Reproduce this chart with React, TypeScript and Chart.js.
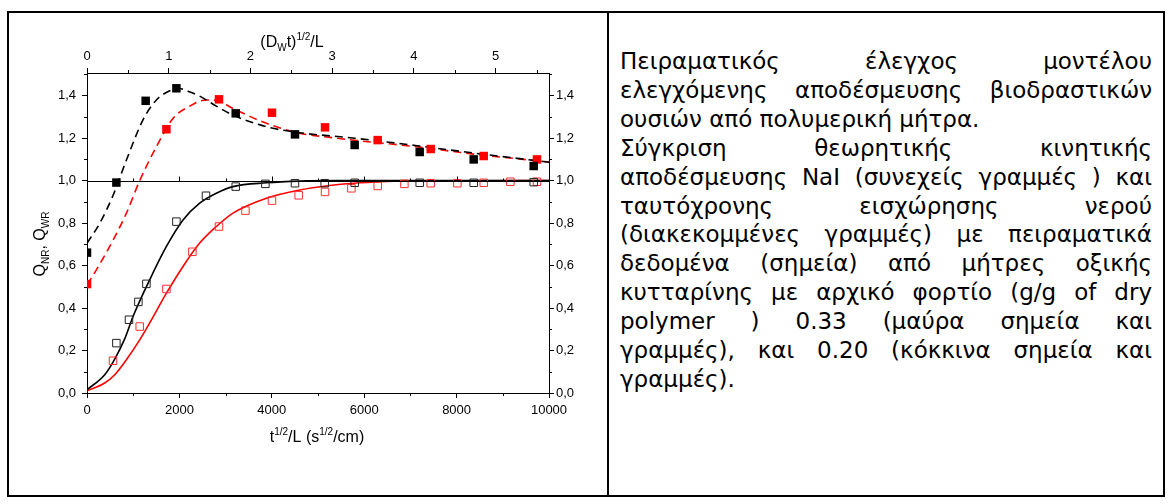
import React, { useEffect, useRef } from "react";
import { Chart, registerables } from "chart.js";

Chart.register(...registerables);

// ---------- axis definitions ----------
const X_MAX = 10000;
const X2_MAX = 5.652;
const Y_MAX = 1.507;
const X_TICKS = [0, 2000, 4000, 6000, 8000, 10000];
const X_MINOR = [1000, 3000, 5000, 7000, 9000];
const X2_TICKS = [0, 1, 2, 3, 4, 5];
const X2_MINOR = [0.5, 1.5, 2.5, 3.5, 4.5, 5.5];
const Y_TICKS = [0, 0.2, 0.4, 0.6, 0.8, 1.0, 1.2, 1.4];
const Y_MINOR = [0.1, 0.3, 0.5, 0.7, 0.9, 1.1, 1.3, 1.5];

// ---------- experimental points ----------
// water uptake (filled squares)
const PTS_WR_033_X = [0, 636, 1270, 1935, 3219, 4502, 5794, 7201, 8370, 9669];
const PTS_WR_033_Y = [0.661, 0.991, 1.376, 1.435, 1.317, 1.218, 1.168, 1.135, 1.1, 1.069];
const PTS_WR_020_X = [0, 1719, 2857, 4004, 5152, 6292, 7440, 8587, 9740];
const PTS_WR_020_Y = [0.513, 1.242, 1.383, 1.32, 1.251, 1.191, 1.149, 1.116, 1.1];
// NaI release (open squares)
const PTS_NR_033_X = [636, 909, 1112, 1286, 1935, 2576, 3219, 3861, 4502, 5145, 5794, 7201, 8370, 9669];
const PTS_NR_033_Y = [0.235, 0.345, 0.429, 0.514, 0.807, 0.929, 0.972, 0.985, 0.988, 0.988, 0.99, 0.99, 0.99, 0.993];
const PTS_NR_020_X = [563, 1141, 1719, 2281, 2857, 3429, 4004, 4582, 5152, 5723, 6292, 6870, 7440, 8017, 8587, 9164, 9740];
const PTS_NR_020_Y = [0.152, 0.313, 0.49, 0.665, 0.784, 0.859, 0.906, 0.931, 0.947, 0.964, 0.975, 0.985, 0.988, 0.988, 0.99, 0.995, 0.995];

// ---------- model curves ----------
const FIT_NR_033_X = [0, 383, 600, 816, 996, 1357, 1719, 2078, 2439, 2800, 3160, 3883, 4604, 5500, 10000];
const FIT_NR_033_Y = [0.015, 0.086, 0.16, 0.255, 0.36, 0.533, 0.69, 0.815, 0.894, 0.941, 0.972, 0.99, 0.998, 1.0, 1.0];
const FIT_NR_020_X = [0, 383, 600, 853, 1141, 1357, 1719, 2078, 2439, 2800, 3160, 3883, 4604, 5253, 5900, 6600, 10000];
const FIT_NR_020_Y = [0.01, 0.047, 0.086, 0.157, 0.25, 0.33, 0.47, 0.596, 0.706, 0.784, 0.847, 0.917, 0.956, 0.977, 0.99, 0.998, 1.0];
const FIT_WR_033_X = [0, 277, 563, 853, 1212, 1502, 1790, 1970, 2200, 2439, 2800, 3160, 3883, 4604, 5794, 7201, 8370, 10000];
const FIT_WR_033_Y = [0.705, 0.8, 0.93, 1.097, 1.286, 1.38, 1.423, 1.435, 1.42, 1.398, 1.351, 1.309, 1.254, 1.226, 1.2, 1.163, 1.13, 1.087];
const FIT_WR_020_X = [0, 203, 491, 853, 1141, 1502, 1861, 2223, 2584, 2800, 3160, 3883, 4604, 5253, 5794, 7201, 8370, 10000];
const FIT_WR_020_Y = [0.51, 0.58, 0.69, 0.847, 1.0, 1.16, 1.293, 1.351, 1.38, 1.378, 1.34, 1.27, 1.223, 1.204, 1.19, 1.158, 1.125, 1.088];

// ---------- caption ----------
const CAPTION_LINES: [string, boolean][] = [
  ["Πειραματικός έλεγχος μοντέλου", true],
  ["ελεγχόμενης αποδέσμευσης βιοδραστικών", true],
  ["ουσιών από πολυμερική μήτρα.", false],
  ["Σύγκριση θεωρητικής κινητικής", true],
  ["αποδέσμευσης NaI (συνεχείς γραμμές ) και", true],
  ["ταυτόχρονης εισχώρησης νερού", true],
  ["(διακεκομμένες γραμμές) με πειραματικά", true],
  ["δεδομένα (σημεία) από μήτρες οξικής", true],
  ["κυτταρίνης με αρχικό φορτίο (g/g of dry", true],
  ["polymer ) 0.33 (μαύρα σημεία και", true],
  ["γραμμές), και 0.20 (κόκκινα σημεία και", true],
  ["γραμμές).", false],
];

const FONT = "'Liberation Sans', Arial, sans-serif";

type Part = { t: string; s: number; dy: number };
const TITLE_TOP: Part[] = [
  { t: "(D", s: 16, dy: 0 },
  { t: "W", s: 10, dy: 4 },
  { t: "t)", s: 16, dy: 0 },
  { t: "1/2", s: 10, dy: -7 },
  { t: "/L", s: 16, dy: 0 },
];
const TITLE_BOTTOM: Part[] = [
  { t: "t", s: 16, dy: 0 },
  { t: "1/2", s: 10, dy: -7 },
  { t: "/L (s", s: 16, dy: 0 },
  { t: "1/2", s: 10, dy: -7 },
  { t: "/cm)", s: 16, dy: 0 },
];
const TITLE_LEFT: Part[] = [
  { t: "Q", s: 16, dy: 0 },
  { t: "NR", s: 10, dy: 4 },
  { t: ", Q", s: 16, dy: 0 },
  { t: "WR", s: 10, dy: 4 },
];

function drawParts(ctx: CanvasRenderingContext2D, parts: Part[], cx: number, by: number) {
  const widths = parts.map((p) => {
    ctx.font = `${p.s}px ${FONT}`;
    return ctx.measureText(p.t).width;
  });
  const total = widths.reduce((a, b) => a + b, 0);
  let x = cx - total / 2;
  ctx.textAlign = "left";
  ctx.textBaseline = "alphabetic";
  parts.forEach((p, i) => {
    ctx.font = `${p.s}px ${FONT}`;
    ctx.fillText(p.t, x, by + p.dy);
    x += widths[i];
  });
}

const decorPlugin = {
  id: "decor",
  afterDraw(chart: any) {
    const { ctx, chartArea: a, scales } = chart;
    const sx = scales.x;
    const sx2 = scales.x2;
    const sy = scales.y;
    ctx.save();
    ctx.strokeStyle = "#000";
    ctx.lineWidth = 1;
    const px = (v: number) => Math.round(v) + 0.5;
    ctx.beginPath();
    X_MINOR.forEach((v) => {
      const x = px(sx.getPixelForValue(v));
      ctx.moveTo(x, a.bottom);
      ctx.lineTo(x, a.bottom + 3);
    });
    X2_MINOR.forEach((v) => {
      if (v > X2_MAX) return;
      const x = px(sx2.getPixelForValue(v));
      ctx.moveTo(x, a.top);
      ctx.lineTo(x, a.top - 3);
    });
    Y_MINOR.forEach((v) => {
      if (v > Y_MAX) return;
      const y = px(sy.getPixelForValue(v));
      ctx.moveTo(a.left, y);
      ctx.lineTo(a.left - 3, y);
      ctx.moveTo(a.right, y);
      ctx.lineTo(a.right + 3, y);
    });
    // inner axis at Q = 1.0 with upward ticks
    const y1 = px(sy.getPixelForValue(1));
    ctx.moveTo(a.left, y1);
    ctx.lineTo(a.right, y1);
    X_TICKS.forEach((v) => {
      const x = px(sx.getPixelForValue(v));
      ctx.moveTo(x, y1);
      ctx.lineTo(x, y1 - 5);
    });
    X_MINOR.forEach((v) => {
      const x = px(sx.getPixelForValue(v));
      ctx.moveTo(x, y1);
      ctx.lineTo(x, y1 - 3);
    });
    ctx.stroke();

    // titles
    ctx.fillStyle = "#000";
    drawParts(ctx, TITLE_TOP, 282, 33);
    drawParts(ctx, TITLE_BOTTOM, 307, 428);
    ctx.save();
    ctx.translate(35, 230);
    ctx.rotate(-Math.PI / 2);
    drawParts(ctx, TITLE_LEFT, 0, 0);
    ctx.restore();
    ctx.restore();
  },
};

const pts = (xs: number[], ys: number[]) => xs.map((x, i) => ({ x, y: ys[i] }));
const yFmt = (v: any) => Number(v).toFixed(1).replace(".", ",");

function ChartBox() {
  const ref = useRef<HTMLCanvasElement | null>(null);
  useEffect(() => {
    if (!ref.current) return;
    const tickFont = { family: FONT, size: 13 };
    const grid = { display: true, drawOnChartArea: false, drawTicks: true, tickLength: 5, color: "#000", lineWidth: 1 };
    const border = { display: true, color: "#000", width: 1 };
    const pointDs = (xs: number[], ys: number[], fill: string, stroke: string, r: number, bw: number) => ({
      data: pts(xs, ys),
      showLine: false,
      pointStyle: "rect",
      pointRadius: r,
      pointBackgroundColor: fill,
      pointBorderColor: stroke,
      pointBorderWidth: bw,
      clip: 0,
    });
    const lineDs = (xs: number[], ys: number[], color: string, dash: number[]) => ({
      data: pts(xs, ys),
      showLine: true,
      pointRadius: 0,
      borderColor: color,
      borderWidth: 1.6,
      borderDash: dash,
      cubicInterpolationMode: "monotone",
      fill: false,
      clip: 0,
    });
    const chart = new Chart(ref.current, {
      type: "scatter",
      data: {
        datasets: [
          pointDs(PTS_WR_033_X, PTS_WR_033_Y, "#000000", "#000000", 6, 0),
          pointDs(PTS_WR_020_X, PTS_WR_020_Y, "#ff0000", "#ff0000", 6, 0),
          pointDs(PTS_NR_033_X, PTS_NR_033_Y, "rgba(0,0,0,0)", "#222222", 5.3, 1),
          pointDs(PTS_NR_020_X, PTS_NR_020_Y, "rgba(0,0,0,0)", "#ff3030", 5.3, 1),
          lineDs(FIT_NR_033_X, FIT_NR_033_Y, "#000000", []),
          lineDs(FIT_NR_020_X, FIT_NR_020_Y, "#ff0000", []),
          lineDs(FIT_WR_033_X, FIT_WR_033_Y, "#000000", [8, 5]),
          lineDs(FIT_WR_020_X, FIT_WR_020_Y, "#ff0000", [8, 5]),
        ] as any,
      },
      options: {
        responsive: false,
        animation: false,
        events: [],
        layout: { padding: 0 },
        plugins: { legend: { display: false }, tooltip: { enabled: false } },
        scales: {
          x: {
            type: "linear",
            position: "bottom",
            min: 0,
            max: X_MAX,
            afterBuildTicks: (s: any) => { s.ticks = X_TICKS.map((v) => ({ value: v })); },
            afterFit: (s: any) => { s.height = 101; },
            ticks: { autoSkip: false, maxRotation: 0, padding: 5, font: tickFont, color: "#000", callback: (v: any) => String(v) },
            grid,
            border,
          },
          x2: {
            type: "linear",
            position: "top",
            min: 0,
            max: X2_MAX,
            afterBuildTicks: (s: any) => { s.ticks = X2_TICKS.map((v) => ({ value: v })); },
            afterFit: (s: any) => { s.height = 59; },
            ticks: { autoSkip: false, maxRotation: 0, padding: 4, font: tickFont, color: "#000", callback: (v: any) => String(v) },
            grid,
            border,
          },
          y: {
            type: "linear",
            position: "left",
            min: 0,
            max: Y_MAX,
            afterBuildTicks: (s: any) => { s.ticks = Y_TICKS.map((v) => ({ value: v })); },
            afterFit: (s: any) => { s.width = 77; },
            ticks: { autoSkip: false, padding: 6, font: tickFont, color: "#000", callback: yFmt },
            grid,
            border,
          },
          y2: {
            type: "linear",
            position: "right",
            min: 0,
            max: Y_MAX,
            afterBuildTicks: (s: any) => { s.ticks = Y_TICKS.map((v) => ({ value: v })); },
            afterFit: (s: any) => { s.width = 57; },
            ticks: { autoSkip: false, padding: 2, font: tickFont, color: "#000", callback: yFmt },
            grid,
            border,
          },
        },
      } as any,
      plugins: [decorPlugin],
    });
    return () => chart.destroy();
  }, []);
  return (
    <canvas
      ref={ref}
      width={596}
      height={480}
      style={{ position: "absolute", left: 10, top: 14, width: 596, height: 480 }}
    />
  );
}

export default function App() {
  return (
    <div style={{ position: "absolute", left: 0, top: 0, width: 1173, height: 504, background: "#fff" }}>
      <div
        style={{
          position: "absolute",
          left: 7,
          top: 11,
          width: 1158,
          height: 486,
          border: "2px solid #000",
          boxSizing: "border-box",
        }}
      />
      <div style={{ position: "absolute", left: 607, top: 11, width: 2, height: 486, background: "#000" }} />
      <ChartBox />
      <div
        style={{
          position: "absolute",
          left: 620,
          top: 47,
          width: 532,
          fontFamily: "'DejaVu Sans', Verdana, sans-serif",
          fontSize: 23,
          lineHeight: "28.9px",
          color: "#000",
        }}
      >
        {CAPTION_LINES.map(([t, j], i) => (
          <div
            key={i}
            style={{
              textAlign: j ? "justify" : "left",
              textAlignLast: j ? "justify" : "left",
              whiteSpace: "nowrap",
            }}
          >
            {t}
          </div>
        ))}
      </div>
    </div>
  );
}
